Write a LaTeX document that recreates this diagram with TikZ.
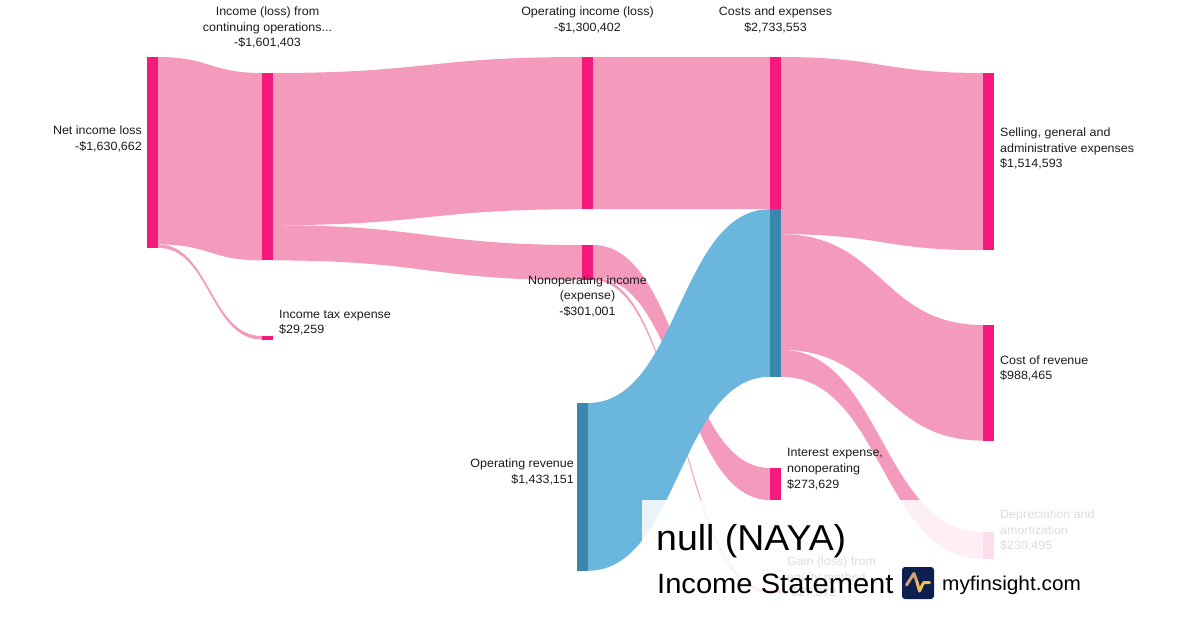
\documentclass[tikz,border=0pt]{standalone}
\usepackage{fontspec}
\setmainfont[FakeStretch=1.04]{Liberation Sans}
\definecolor{nodepink}{RGB}{245,25,125}
\definecolor{flowpink}{RGB}{244,154,189}
\definecolor{flowblue}{RGB}{106,182,220}
\definecolor{nodeblue}{RGB}{58,135,173}
\definecolor{txt}{RGB}{28,28,28}
\definecolor{navy}{RGB}{12,31,80}
\definecolor{goldA}{RGB}{205,165,115}
\definecolor{goldB}{RGB}{240,190,80}
\newcommand{\sflow}[7]{%
  \fill[#7] (#1,#2) .. controls ({(#1+#4)/2},#2) and ({(#1+#4)/2},#5) .. (#4,#5)
    -- (#4,#6) .. controls ({(#1+#4)/2},#6) and ({(#1+#4)/2},#3) .. (#1,#3) -- cycle;}
\begin{document}
\begin{tikzpicture}[x=1pt,y=-1pt,
  lbl/.style={inner sep=0pt, text=txt, font=\fontsize{12}{14}\selectfont},
  bar/.style={fill=nodepink},
  bbar/.style={fill=nodeblue}]
\useasboundingbox (0,0) rectangle (1200,630);
\fill[white] (0,0) rectangle (1200,630);

% ---- pink flows
\sflow{158}{57}{244.4}{262}{73}{260.4}{flowpink}
\sflow{158}{244.4}{247.8}{262}{336}{339.5}{flowpink}
\sflow{273}{73}{225.2}{582}{57}{209.2}{flowpink}
\sflow{273}{225.2}{260.4}{582}{245}{280.2}{flowpink}
\sflow{593}{57}{209.2}{770}{57}{209.2}{flowpink}
\sflow{593}{245}{277}{770}{468}{500}{flowpink}
\sflow{593}{277}{280.2}{770}{590}{593.2}{flowpink}
\sflow{781}{57}{234.2}{983}{73}{250.2}{flowpink}
\sflow{781}{234.2}{349.8}{983}{325}{440.6}{flowpink}
\sflow{781}{349.8}{376.8}{983}{532}{559}{flowpink}
% ---- blue flow
\sflow{588}{403}{570.7}{770}{209.2}{376.8}{flowblue}

% ---- node bars
\fill[bar] (147,57) rectangle (158,247.8);
\fill[bar] (262,73) rectangle (273,260.4);
\fill[bar] (262,336) rectangle (273,339.5);
\fill[bar] (582,57) rectangle (593,209.2);
\fill[bar] (582,245) rectangle (593,280.2);
\fill[bbar] (577,403) rectangle (588,570.7);
\fill[bar] (770,57) rectangle (781,209.2);
\fill[bbar] (770,209.2) rectangle (781,376.8);
\fill[bar] (770,468) rectangle (781,500);
\fill[bar] (770,590) rectangle (781,593.2);
\fill[bar] (983,73) rectangle (994,250.2);
\fill[bar] (983,325) rectangle (994,440.6);
\fill[bar] (983,532) rectangle (994,559);

% ---- labels
\node[lbl, anchor=base east] (ni1) at (142,134.5) {Net income loss};
\node[lbl, anchor=base east] (ni2) at (142,150) {-\$1,630,662};

\node[lbl, anchor=base] (co1) at (267.5,15.7) {Income (loss) from};
\node[lbl, anchor=base] (co2) at (267.5,31.2) {continuing operations...};
\node[lbl, anchor=base] (co3) at (267.5,46.7) {-\$1,601,403};

\node[lbl, anchor=base west] (tx1) at (279,318.3) {Income tax expense};
\node[lbl, anchor=base west] (tx2) at (279,333.8) {\$29,259};

\node[lbl, anchor=base] (oi1) at (587.5,15.7) {Operating income (loss)};
\node[lbl, anchor=base] (oi2) at (587.5,31.2) {-\$1,300,402};

\node[lbl, anchor=base] (no1) at (587.5,284) {Nonoperating income};
\node[lbl, anchor=base] (no2) at (587.5,299.5) {(expense)};
\node[lbl, anchor=base] (no3) at (587.5,315) {-\$301,001};

\node[lbl, anchor=base east] (or1) at (574,467.5) {Operating revenue};
\node[lbl, anchor=base east] (or2) at (574,483) {\$1,433,151};

\node[lbl, anchor=base] (ce1) at (775.5,15.7) {Costs and expenses};
\node[lbl, anchor=base] (ce2) at (775.5,31.2) {\$2,733,553};

\node[lbl, anchor=base west] (ie1) at (787,456.7) {Interest expense,};
\node[lbl, anchor=base west] (ie2) at (787,472.3) {nonoperating};
\node[lbl, anchor=base west] (ie3) at (787,488) {\$273,629};

\node[lbl, anchor=base west] (ga1) at (787,565.5) {Gain (loss) from};
\node[lbl, anchor=base west] (ga2) at (787,581) {equity method};
\node[lbl, anchor=base west] (ga3) at (787,596.5) {-\$27,372};

\node[lbl, anchor=base west] (sg1) at (1000,136.5) {Selling, general and};
\node[lbl, anchor=base west] (sg2) at (1000,152) {administrative expenses};
\node[lbl, anchor=base west] (sg3) at (1000,167.5) {\$1,514,593};

\node[lbl, anchor=base west] (cr1) at (1000,364) {Cost of revenue};
\node[lbl, anchor=base west] (cr2) at (1000,379.5) {\$988,465};

\node[lbl, anchor=base west] (da1) at (1000,518.5) {Depreciation and};
\node[lbl, anchor=base west] (da2) at (1000,534) {amortization};
\node[lbl, anchor=base west] (da3) at (1000,549.5) {\$230,495};

% ---- title overlay
\fill[white, opacity=0.85] (642,500) rectangle (1200,630);

\node[inner sep=0pt, anchor=base west, text=black, font=\fontsize{36}{40}\selectfont] (title) at (656,550) {null (NAYA)};
\node[inner sep=0pt, anchor=base west, text=black, font=\fontsize{28}{32}\selectfont] (sub) at (657,593.3) {Income Statement};
\fill[navy, rounded corners=3pt] (902,567) rectangle (934,599);
\draw[goldA, line width=3pt, line cap=round, line join=round] (906.5,585) -- (914,573.5) -- (917,582);
\draw[goldB, line width=3pt, line cap=round, line join=round] (917,582) -- (919.5,591) -- (923.5,582.7) -- (929.5,582.7);
\node[inner sep=0pt, anchor=base west, text=black, font=\fontsize{20}{24}\selectfont] (site) at (942,590) {myfinsight.com};
\end{tikzpicture}
\end{document}
